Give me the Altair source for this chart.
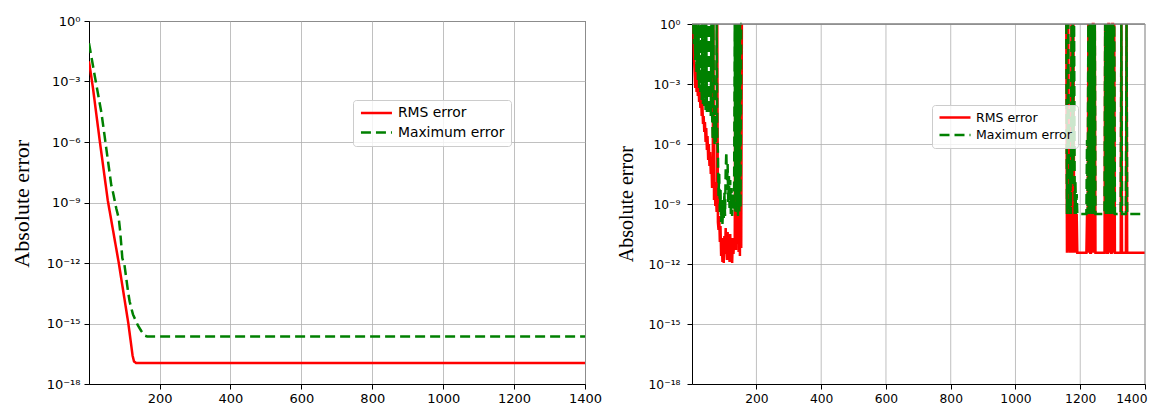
import altair as alt
import pandas as pd

# ---------------- data (log10 of the error) ----------------
OFF = 8.0  # log10 of a value that diverged far above the plotted range

SERIES = ["RMS error", "Maximum error"]
X_TICKS = [200, 400, 600, 800, 1000, 1200, 1400]
Y_TICK_EXP = [0, -3, -6, -9, -12, -15, -18]

# left panel: smooth convergence
L_RMS_X = [1, 12, 31, 54, 85, 112, 124, 128, 134, 1400]
L_RMS_LOG = [-2.0, -3.3, -5.9, -8.9, -12.0, -15.0, -16.6, -16.88, -16.96, -16.96]
L_MAX_X = [1, 17, 36, 45, 50, 64, 68.5, 78, 85, 89, 95, 101, 111, 115.5, 125, 139, 148, 158, 165, 1400]
L_MAX_LOG = [-1.1, -2.7, -4.55, -5.7, -6.35, -8.16, -8.48, -9.3, -9.79, -10.44, -11.76, -12.09,
             -13.4, -13.9, -14.55, -15.1, -15.36, -15.6, -15.64, -15.64]

# right panel: noisy run; early part (iterations 5-155)
A_X = [5, 7, 9, 11, 13, 15, 17, 19, 21, 23, 25, 27, 29, 31, 33, 35, 37, 39, 41, 43, 45, 47, 49,
       51, 53, 55, 57, 59, 61]
A_MAX = [OFF, -1.0, OFF, -1.8, OFF, -2.4, OFF, -2.8, OFF, -3.2, OFF, -3.4, OFF, -3.8, OFF,
         -4.0, OFF, -4.1, OFF, -4.3, OFF, -4.4, OFF, -4.5, OFF, -4.5, OFF, -4.6, OFF]
A_RMS = [OFF, -1.6, -2.4, -3.2, -2.0, -3.4, -2.6, -3.6, -3.0, -3.9, -3.4, -4.2, -3.6, -4.6,
         -4.0, -5.0, -4.6, -5.4, -4.9, -5.9, -5.2, -6.3, -5.6, -6.8, -6.0, -7.1, -6.4, -7.5, -6.8]

B_X = [63, 65, 67, 69, 71, 73, 75, 77, 79, 81, 83, 85, 87, 89, 91, 93, 95, 97, 99, 101, 103, 105, 107,
       109, 111, 113, 115, 117, 119, 121, 123, 125, 127, 129, 131]
B_MAX = [-4.4, -5.8, OFF, -5.2, -6.0, -4.6, -5.9, OFF, -5.5, -6.4, -8.6, -7.5, -9.4, -8.3, -9.9, -8.8,
         -10.0, -9.1, -9.7, -8.4, -9.6, -7.4, -6.4, -8.3, -7.0, -8.9, -7.6, -9.2, -7.8, -9.5, -8.2,
         -9.6, -8.5, -9.3, -8.8]
B_RMS = [-8.2, -7.4, OFF, -8.8, -7.9, -9.1, -8.4, -9.4, OFF, -9.9, -10.3, -9.6, -10.9, -10.1, -11.6,
         -10.7, -11.9, -11.1, -11.95, -10.6, -11.5, -10.2, -11.0, -11.8, -10.4, -11.3, -10.8, -11.9,
         -10.5, -11.7, -10.9, -11.95, -10.7, -11.5, -10.9]

C_X = [133, 135, 137, 139, 141, 143, 145, 147, 149, 151, 153, 155]
C_MAX = [OFF, -9.5, OFF, -9.4, OFF, -9.6, OFF, -9.5, OFF, -9.2, OFF, OFF]
C_RMS = [-11.0, OFF, -11.3, OFF, -11.0, OFF, -11.4, OFF, -11.6, OFF, -11.2, OFF]

# right panel: late part (iterations 1157-1400)
D_X = [1157, 1159, 1161, 1163, 1165, 1167, 1169, 1171, 1173, 1175, 1177, 1179, 1181, 1183, 1185, 1187,
       1189, 1191, 1193]
D_MAX = [OFF, -9.5, -6.4, OFF, -7.5, -9.5, -6.8, -9.5, OFF, -8.0, OFF, -7.0, OFF, -9.5, -7.8, -9.5,
         -8.5, -9.5, -9.5]
D_RMS = [OFF, -11.44, -9.5, OFF, -9.5, -11.44, -9.5, -11.44, OFF, -9.5, -11.44, OFF, -9.5, -11.44,
         -9.5, -11.44, -9.5, -11.44, -11.44]

E_X = [1219, 1221, 1223, 1225, 1227, 1229, 1231, 1233, 1235, 1237, 1239, 1241, 1243, 1245, 1247]
E_MAX = [-9.5, -5.8, -9.5, OFF, -9.5, OFF, -9.5, OFF, -9.5, OFF, -9.5, OFF, -9.5, OFF, -9.5]
E_RMS = [-11.44, -9.5, -11.44, OFF, -11.44, OFF, -11.44, -11.44, OFF, -11.44, OFF, OFF, -11.44, OFF,
         -11.44]

F_X = [1275, 1277, 1279, 1281, 1283, 1285, 1287, 1289, 1291, 1293, 1295, 1297, 1299, 1301, 1303,
       1305, 1307]
F_MAX = [-9.5, OFF, -9.5, OFF, -9.5, OFF, -9.5, OFF, -9.5, OFF, -9.5, OFF, -9.5, OFF, -9.5, OFF, -9.5]
F_RMS = [-11.44, OFF, -11.44, OFF, -11.44, -11.44, OFF, OFF, -11.44, OFF, -11.44, -11.44, OFF, OFF,
         -11.44, OFF, -11.44]

G_X = [1325, 1327, 1329, 1341, 1343, 1345, 1400]
G_MAX = [-9.5, OFF, -9.5, -9.5, OFF, -9.5, -9.5]
G_RMS = [-11.44, OFF, -11.44, -11.44, OFF, -11.44, -11.44]

EARLY_X = A_X + B_X + C_X
EARLY_MAX = A_MAX + B_MAX + C_MAX
EARLY_RMS = A_RMS + B_RMS + C_RMS
LATE_X = D_X + E_X + F_X + G_X
LATE_MAX = D_MAX + E_MAX + F_MAX + G_MAX
LATE_RMS = D_RMS + E_RMS + F_RMS + G_RMS


def frame(parts, name):
    rows = []
    for part, (xs, logs) in enumerate(parts):
        for xv, e in zip(xs, logs):
            rows.append({"x": xv, "v": 10.0 ** e, "series": name, "part": part})
    return pd.DataFrame(rows)


SUP = {"0": "\u2070", "1": "\u00b9", "2": "\u00b2", "3": "\u00b3", "4": "\u2074", "5": "\u2075",
       "6": "\u2076", "7": "\u2077", "8": "\u2078", "9": "\u2079", "-": "\u207b"}


def sup(e):
    return "".join(SUP[c] for c in str(e))


LABEL_EXPR = " : ".join(
    f"abs(log(datum.value)/LN10 - ({e})) < 0.1 ? '10{sup(e)}'" for e in Y_TICK_EXP
) + " : ''"

RED = "#ff0000"
GREEN = "#008000"
GRID = "#b0b0b0"


def panel(rms_df, max_df, width, height, top_gap, tick_fs, ylab_pad, title_fs, title_x, title_y,
          leg_x, leg_y, leg_fs, framed, flush_last):
    color_scale = alt.Scale(domain=SERIES, range=[RED, GREEN])
    dash_scale = alt.Scale(domain=SERIES, range=[[1, 0], [10, 5]])
    legend = alt.Legend(
        title=None, orient="none", legendX=leg_x, legendY=leg_y,
        symbolType="M-1,0H5.2", symbolSize=100, symbolStrokeWidth=2.5,
        labelFontSize=leg_fs, labelFont="DejaVu Sans", labelColor="#000000",
        labelOffset=25, padding=6, rowPadding=4.6,
        fillColor="rgba(255,255,255,0.8)", strokeColor="#cccccc", cornerRadius=3,
    )
    x_axis = dict(
        values=X_TICKS, format="d", title=None, grid=framed, gridColor=GRID, gridWidth=0.8,
        domainColor="#000000", tickColor="#000000", tickSize=5, labelPadding=3,
        labelFont="DejaVu Sans", labelFontSize=tick_fs, labelColor="#000000",
        labelOverlap=False, labelFlush=flush_last,
    )
    if flush_last:
        x_axis["labelFlushOffset"] = 2
    x = alt.X("x:Q", scale=alt.Scale(domain=[1, 1400], nice=False, zero=False),
              axis=alt.Axis(**x_axis))
    y = alt.Y(
        "v:Q",
        scale=alt.Scale(type="log", domain=[1e-18, 1], nice=False, clamp=True,
                        range=[height, top_gap]),
        axis=alt.Axis(
            values=[10.0 ** e for e in Y_TICK_EXP], labelExpr=LABEL_EXPR,
            title="Absolute error", titleFont="Liberation Serif", titleFontSize=title_fs,
            titleFontWeight="normal", titleColor="#000000", titleAngle=270,
            titleBaseline="alphabetic", titleAlign="center", titleX=title_x, titleY=title_y,
            grid=True, gridColor=GRID, gridWidth=0.8,
            domainColor="#000000", tickColor="#000000", tickSize=5, labelPadding=ylab_pad,
            labelFont="DejaVu Sans", labelFontSize=tick_fs, labelColor="#000000",
            labelOverlap=False,
        ),
    )
    color = alt.Color("series:N", scale=color_scale, legend=legend)
    dash = alt.StrokeDash("series:N", scale=dash_scale, legend=legend)
    layers = []
    if not framed:
        layers.append(
            alt.Chart(pd.DataFrame({"x": X_TICKS})).mark_rule(color=GRID, strokeWidth=0.8).encode(
                x=x, y=alt.datum(1e-18), y2=alt.datum(1.0))
        )
    layers.append(alt.Chart(rms_df).mark_line(clip=True, strokeWidth=2.5).encode(
        x=x, y=y, color=color, strokeDash=dash, detail="part:N"))
    layers.append(alt.Chart(max_df).mark_line(clip=True, strokeWidth=2.5).encode(
        x=x, y=y, color=color, strokeDash=dash, detail="part:N"))
    if not framed:
        one = pd.DataFrame({"k": [0]})
        layers.append(alt.Chart(one).mark_rule(color="#808080", strokeWidth=1.5).encode(
            x=alt.datum(1), x2=alt.datum(1400), y=alt.datum(1.0)))
        layers.append(alt.Chart(one).mark_rule(color="#999999", strokeWidth=1).encode(
            x=alt.datum(1400), y=alt.datum(1e-18), y2=alt.datum(1.0)))
    view = (alt.ViewBackground(stroke="#000000", strokeWidth=1) if framed
            else alt.ViewBackground(stroke="transparent"))
    return alt.layer(*layers).properties(width=width, height=height, view=view)


left = panel(frame([(L_RMS_X, L_RMS_LOG)], "RMS error"),
             frame([(L_MAX_X, L_MAX_LOG)], "Maximum error"),
             496, 363, 0, 13, 4, 22, -61, 182.3, 264, 79, 13.9, True, False)
right = panel(frame([(EARLY_X, EARLY_RMS), (LATE_X, LATE_RMS)], "RMS error"),
              frame([(EARLY_X, EARLY_MAX), (LATE_X, LATE_MAX)], "Maximum error"),
              453, 363, 3, 12.3, 7, 20, -60, 182.7, 240, 84, 12.5, False, True)

chart = alt.hconcat(left, right, spacing=12).resolve_scale(
    color="independent", strokeDash="independent"
).resolve_legend(
    color="independent", strokeDash="independent"
).properties(
    autosize=alt.AutoSizeParams(type="none"),
    padding={"left": 81, "top": 13, "right": 1059, "bottom": 383},
).configure(background="#ffffff")

chart.save("out.html", embed_options={"renderer": "svg", "actions": False})
